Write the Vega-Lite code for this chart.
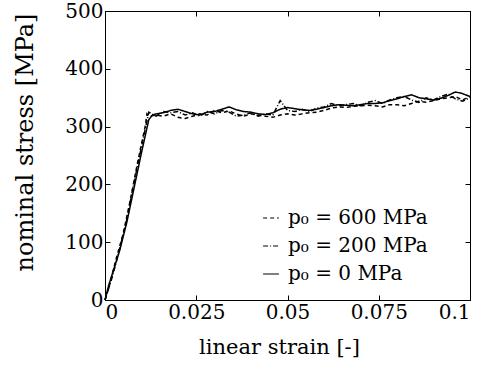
{
  "$schema": "https://vega.github.io/schema/vega-lite/v6.json",
  "width": 365,
  "height": 289,
  "autosize": "none",
  "padding": {"left": 105, "top": 11, "right": 23, "bottom": 67},
  "background": "white",
  "config": {
    "view": {"stroke": "black", "strokeWidth": 1},
    "font": "DejaVu Serif",
    "axis": {"labelFont": "DejaVu Serif", "titleFont": "DejaVu Serif", "labelFontSize": 20, "titleFontSize": 21, "labelColor": "black", "titleColor": "black", "titleFontWeight": "normal", "domainColor": "black", "tickColor": "black", "grid": false, "tickSize": -5, "labelPadding": 7}
  },
  "data": {"values": [
    {"s":"p₀ = 600 MPa","x":0,"y":0},{"s":"p₀ = 600 MPa","x":0.001,"y":20},{"s":"p₀ = 600 MPa","x":0.003,"y":70},{"s":"p₀ = 600 MPa","x":0.005,"y":115},{"s":"p₀ = 600 MPa","x":0.007,"y":175},{"s":"p₀ = 600 MPa","x":0.009,"y":240},{"s":"p₀ = 600 MPa","x":0.011,"y":300},{"s":"p₀ = 600 MPa","x":0.0115,"y":322},{"s":"p₀ = 600 MPa","x":0.012,"y":318},{"s":"p₀ = 600 MPa","x":0.014,"y":320},{"s":"p₀ = 600 MPa","x":0.016,"y":318},{"s":"p₀ = 600 MPa","x":0.018,"y":322},{"s":"p₀ = 600 MPa","x":0.020,"y":316},{"s":"p₀ = 600 MPa","x":0.022,"y":314},{"s":"p₀ = 600 MPa","x":0.024,"y":318},{"s":"p₀ = 600 MPa","x":0.026,"y":322},{"s":"p₀ = 600 MPa","x":0.028,"y":320},{"s":"p₀ = 600 MPa","x":0.030,"y":328},{"s":"p₀ = 600 MPa","x":0.032,"y":324},{"s":"p₀ = 600 MPa","x":0.034,"y":327},{"s":"p₀ = 600 MPa","x":0.036,"y":322},{"s":"p₀ = 600 MPa","x":0.038,"y":318},{"s":"p₀ = 600 MPa","x":0.040,"y":322},{"s":"p₀ = 600 MPa","x":0.042,"y":320},{"s":"p₀ = 600 MPa","x":0.044,"y":318},{"s":"p₀ = 600 MPa","x":0.046,"y":316},{"s":"p₀ = 600 MPa","x":0.048,"y":320},{"s":"p₀ = 600 MPa","x":0.050,"y":322},{"s":"p₀ = 600 MPa","x":0.052,"y":320},{"s":"p₀ = 600 MPa","x":0.054,"y":322},{"s":"p₀ = 600 MPa","x":0.056,"y":324},{"s":"p₀ = 600 MPa","x":0.058,"y":325},{"s":"p₀ = 600 MPa","x":0.060,"y":328},{"s":"p₀ = 600 MPa","x":0.062,"y":332},{"s":"p₀ = 600 MPa","x":0.064,"y":334},{"s":"p₀ = 600 MPa","x":0.066,"y":333},{"s":"p₀ = 600 MPa","x":0.068,"y":335},{"s":"p₀ = 600 MPa","x":0.070,"y":336},{"s":"p₀ = 600 MPa","x":0.072,"y":337},{"s":"p₀ = 600 MPa","x":0.074,"y":336},{"s":"p₀ = 600 MPa","x":0.076,"y":334},{"s":"p₀ = 600 MPa","x":0.078,"y":338},{"s":"p₀ = 600 MPa","x":0.080,"y":338},{"s":"p₀ = 600 MPa","x":0.082,"y":336},{"s":"p₀ = 600 MPa","x":0.084,"y":340},{"s":"p₀ = 600 MPa","x":0.086,"y":344},{"s":"p₀ = 600 MPa","x":0.088,"y":342},{"s":"p₀ = 600 MPa","x":0.090,"y":345},{"s":"p₀ = 600 MPa","x":0.092,"y":348},{"s":"p₀ = 600 MPa","x":0.094,"y":350},{"s":"p₀ = 600 MPa","x":0.096,"y":352},{"s":"p₀ = 600 MPa","x":0.098,"y":346},{"s":"p₀ = 600 MPa","x":0.100,"y":352},
    {"s":"p₀ = 200 MPa","x":0,"y":0},{"s":"p₀ = 200 MPa","x":0.002,"y":40},{"s":"p₀ = 200 MPa","x":0.004,"y":88},{"s":"p₀ = 200 MPa","x":0.006,"y":140},{"s":"p₀ = 200 MPa","x":0.008,"y":205},{"s":"p₀ = 200 MPa","x":0.010,"y":265},{"s":"p₀ = 200 MPa","x":0.0115,"y":310},{"s":"p₀ = 200 MPa","x":0.012,"y":325},{"s":"p₀ = 200 MPa","x":0.014,"y":318},{"s":"p₀ = 200 MPa","x":0.016,"y":326},{"s":"p₀ = 200 MPa","x":0.018,"y":324},{"s":"p₀ = 200 MPa","x":0.020,"y":326},{"s":"p₀ = 200 MPa","x":0.022,"y":320},{"s":"p₀ = 200 MPa","x":0.024,"y":324},{"s":"p₀ = 200 MPa","x":0.026,"y":318},{"s":"p₀ = 200 MPa","x":0.028,"y":326},{"s":"p₀ = 200 MPa","x":0.030,"y":322},{"s":"p₀ = 200 MPa","x":0.032,"y":328},{"s":"p₀ = 200 MPa","x":0.034,"y":325},{"s":"p₀ = 200 MPa","x":0.036,"y":318},{"s":"p₀ = 200 MPa","x":0.038,"y":320},{"s":"p₀ = 200 MPa","x":0.040,"y":324},{"s":"p₀ = 200 MPa","x":0.042,"y":318},{"s":"p₀ = 200 MPa","x":0.044,"y":322},{"s":"p₀ = 200 MPa","x":0.046,"y":320},{"s":"p₀ = 200 MPa","x":0.048,"y":345},{"s":"p₀ = 200 MPa","x":0.050,"y":328},{"s":"p₀ = 200 MPa","x":0.052,"y":326},{"s":"p₀ = 200 MPa","x":0.054,"y":330},{"s":"p₀ = 200 MPa","x":0.056,"y":326},{"s":"p₀ = 200 MPa","x":0.058,"y":332},{"s":"p₀ = 200 MPa","x":0.060,"y":334},{"s":"p₀ = 200 MPa","x":0.062,"y":340},{"s":"p₀ = 200 MPa","x":0.064,"y":336},{"s":"p₀ = 200 MPa","x":0.066,"y":338},{"s":"p₀ = 200 MPa","x":0.068,"y":340},{"s":"p₀ = 200 MPa","x":0.070,"y":336},{"s":"p₀ = 200 MPa","x":0.072,"y":342},{"s":"p₀ = 200 MPa","x":0.074,"y":345},{"s":"p₀ = 200 MPa","x":0.076,"y":340},{"s":"p₀ = 200 MPa","x":0.078,"y":346},{"s":"p₀ = 200 MPa","x":0.080,"y":350},{"s":"p₀ = 200 MPa","x":0.082,"y":352},{"s":"p₀ = 200 MPa","x":0.084,"y":346},{"s":"p₀ = 200 MPa","x":0.086,"y":342},{"s":"p₀ = 200 MPa","x":0.088,"y":350},{"s":"p₀ = 200 MPa","x":0.090,"y":346},{"s":"p₀ = 200 MPa","x":0.092,"y":352},{"s":"p₀ = 200 MPa","x":0.094,"y":356},{"s":"p₀ = 200 MPa","x":0.096,"y":348},{"s":"p₀ = 200 MPa","x":0.098,"y":344},{"s":"p₀ = 200 MPa","x":0.100,"y":350},
    {"s":"p₀ = 0 MPa","x":0,"y":0},{"s":"p₀ = 0 MPa","x":0.001,"y":25},{"s":"p₀ = 0 MPa","x":0.002,"y":45},{"s":"p₀ = 0 MPa","x":0.004,"y":85},{"s":"p₀ = 0 MPa","x":0.006,"y":135},{"s":"p₀ = 0 MPa","x":0.008,"y":195},{"s":"p₀ = 0 MPa","x":0.010,"y":255},{"s":"p₀ = 0 MPa","x":0.012,"y":312},{"s":"p₀ = 0 MPa","x":0.013,"y":320},{"s":"p₀ = 0 MPa","x":0.014,"y":322},{"s":"p₀ = 0 MPa","x":0.016,"y":324},{"s":"p₀ = 0 MPa","x":0.018,"y":328},{"s":"p₀ = 0 MPa","x":0.020,"y":330},{"s":"p₀ = 0 MPa","x":0.022,"y":326},{"s":"p₀ = 0 MPa","x":0.024,"y":322},{"s":"p₀ = 0 MPa","x":0.026,"y":320},{"s":"p₀ = 0 MPa","x":0.028,"y":325},{"s":"p₀ = 0 MPa","x":0.030,"y":326},{"s":"p₀ = 0 MPa","x":0.032,"y":330},{"s":"p₀ = 0 MPa","x":0.034,"y":334},{"s":"p₀ = 0 MPa","x":0.036,"y":329},{"s":"p₀ = 0 MPa","x":0.038,"y":326},{"s":"p₀ = 0 MPa","x":0.040,"y":325},{"s":"p₀ = 0 MPa","x":0.042,"y":322},{"s":"p₀ = 0 MPa","x":0.044,"y":321},{"s":"p₀ = 0 MPa","x":0.046,"y":324},{"s":"p₀ = 0 MPa","x":0.048,"y":330},{"s":"p₀ = 0 MPa","x":0.050,"y":333},{"s":"p₀ = 0 MPa","x":0.052,"y":331},{"s":"p₀ = 0 MPa","x":0.054,"y":329},{"s":"p₀ = 0 MPa","x":0.056,"y":328},{"s":"p₀ = 0 MPa","x":0.058,"y":330},{"s":"p₀ = 0 MPa","x":0.060,"y":333},{"s":"p₀ = 0 MPa","x":0.062,"y":336},{"s":"p₀ = 0 MPa","x":0.064,"y":338},{"s":"p₀ = 0 MPa","x":0.066,"y":337},{"s":"p₀ = 0 MPa","x":0.068,"y":336},{"s":"p₀ = 0 MPa","x":0.070,"y":338},{"s":"p₀ = 0 MPa","x":0.072,"y":340},{"s":"p₀ = 0 MPa","x":0.074,"y":340},{"s":"p₀ = 0 MPa","x":0.076,"y":341},{"s":"p₀ = 0 MPa","x":0.078,"y":345},{"s":"p₀ = 0 MPa","x":0.080,"y":348},{"s":"p₀ = 0 MPa","x":0.082,"y":352},{"s":"p₀ = 0 MPa","x":0.084,"y":355},{"s":"p₀ = 0 MPa","x":0.086,"y":350},{"s":"p₀ = 0 MPa","x":0.088,"y":348},{"s":"p₀ = 0 MPa","x":0.090,"y":346},{"s":"p₀ = 0 MPa","x":0.092,"y":349},{"s":"p₀ = 0 MPa","x":0.094,"y":354},{"s":"p₀ = 0 MPa","x":0.096,"y":360},{"s":"p₀ = 0 MPa","x":0.098,"y":357},{"s":"p₀ = 0 MPa","x":0.100,"y":352}
  ]},
  "layer": [
    {
      "mark": {"type": "line", "color": "black", "strokeWidth": 1.5},
      "encoding": {
        "x": {"field": "x", "type": "quantitative", "title": "linear strain [-]", "scale": {"domain": [0, 0.1], "nice": false}, "axis": {"values": [0, 0.025, 0.05, 0.075, 0.1], "labelExpr": "datum.value == 0 ? '0' : format(datum.value, '~g')", "titlePadding": 14, "titleX": 174}},
        "y": {"field": "y", "type": "quantitative", "title": "nominal stress [MPa]", "scale": {"domain": [0, 500], "nice": false}, "axis": {"values": [0, 100, 200, 300, 400, 500], "titlePadding": 27, "titleFontSize": 24, "titleY": 131}},
        "strokeDash": {"field": "s", "type": "nominal", "sort": ["p₀ = 600 MPa", "p₀ = 200 MPa", "p₀ = 0 MPa"], "scale": {"domain": ["p₀ = 600 MPa", "p₀ = 200 MPa", "p₀ = 0 MPa"], "range": [[4, 3], [5, 2, 1, 2], [1, 0]]}, "legend": {"title": null, "orient": "none", "legendX": 156, "legendY": 197, "labelFont": "DejaVu Serif", "labelFontSize": 20, "labelColor": "black", "symbolType": "stroke", "symbolStrokeColor": "black", "symbolSize": 250, "symbolStrokeWidth": 1.2, "rowPadding": 8, "labelOffset": 7}}
      }
    },
    {
      "mark": {"type": "line", "opacity": 0},
      "encoding": {
        "x": {"field": "x", "type": "quantitative", "axis": {"orient": "top", "values": [0, 0.025, 0.05, 0.075, 0.1], "labels": false, "title": null}},
        "y": {"field": "y", "type": "quantitative", "axis": {"orient": "right", "values": [0, 100, 200, 300, 400, 500], "labels": false, "title": null}},
        "detail": {"field": "s"}
      }
    }
  ],
  "resolve": {"axis": {"x": "independent", "y": "independent"}}
}
